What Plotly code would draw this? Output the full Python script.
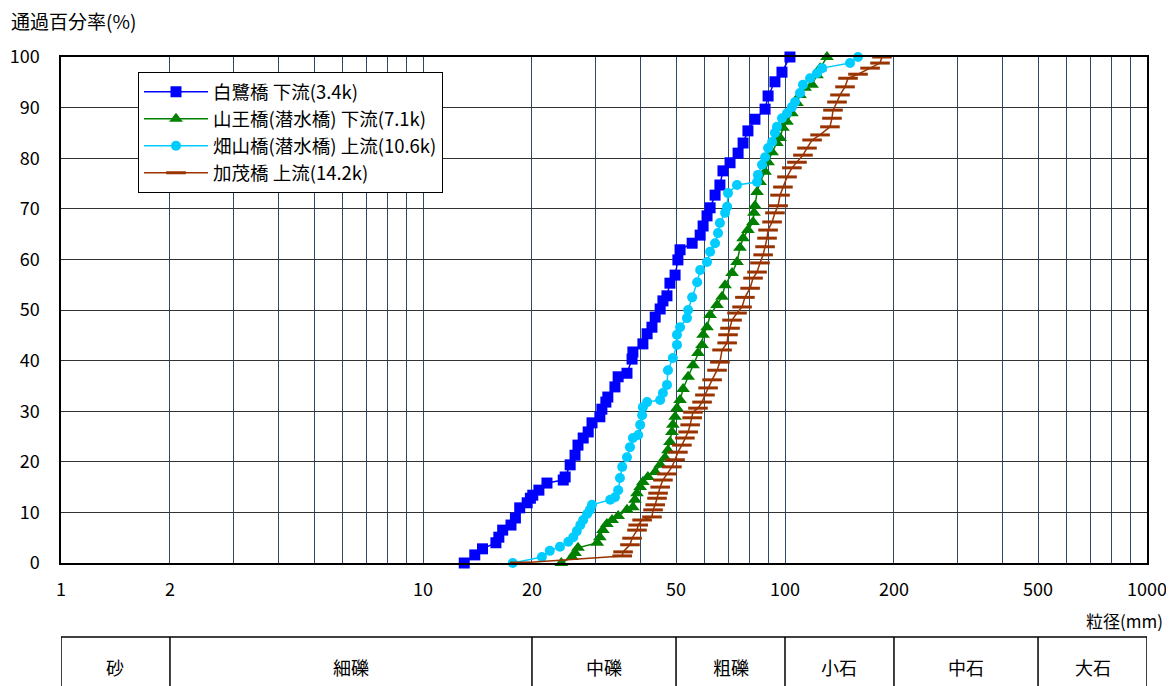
import math
import plotly.graph_objects as go

# ---- data (grain size mm, percent passing %) ----
shirasagi_d = [13.0, 13.9, 14.6, 15.9, 16.2, 16.6, 17.5, 18.0, 18.5, 19.4, 19.8, 20.1, 20.9, 22.0, 24.4, 24.7,
               25.5, 26.3, 26.8, 27.7, 28.6, 29.3, 30.8, 31.2, 32.0, 32.4, 33.9, 34.6, 36.6, 37.8, 38.0, 40.5,
               41.6, 42.9, 43.8, 45.2, 46.0, 47.2, 48.1, 49.7, 50.6, 51.3, 55.4, 58.3, 59.4, 60.9, 62.1, 64.1,
               66.1, 67.4, 70.5, 74.2, 76.6, 79.0, 82.6, 88.1, 89.8, 93.8, 98.1, 103.2]
shirasagi_p = [0.0, 1.6, 2.8, 4.0, 5.1, 6.5, 7.5, 8.9, 10.9, 11.9, 12.8, 13.4, 14.4, 15.8, 16.4, 17.0,
               19.4, 21.3, 23.3, 24.7, 25.9, 27.7, 28.9, 30.4, 31.8, 32.8, 34.8, 36.8, 37.5, 40.3, 41.7, 43.3,
               45.3, 46.6, 48.6, 50.2, 51.8, 52.8, 55.3, 56.9, 59.9, 61.9, 63.2, 64.8, 66.6, 68.6, 70.2, 72.7,
               74.7, 77.5, 79.1, 81.0, 83.0, 85.4, 87.7, 89.7, 92.3, 95.1, 97.0, 100.0]

sanno_d = [24.1, 25.8, 26.3, 26.8, 30.3, 30.8, 31.4, 32.2, 33.3, 34.6, 36.6, 38.0, 38.5, 39.0, 39.8, 40.5,
           41.8, 43.8, 45.2, 46.6, 47.5, 48.1, 48.7, 49.0, 49.7, 50.3, 51.3, 52.3, 54.0, 55.7, 57.5, 59.0,
           59.4, 60.9, 62.1, 64.9, 67.0, 68.3, 71.4, 73.7, 75.1, 76.6, 79.0, 81.6, 82.1, 82.6, 83.7, 85.3,
           88.1, 89.8, 92.1, 95.0, 96.9, 98.7, 101.3, 104.5, 107.9, 110.0, 113.6, 118.8, 122.6, 125.0, 130.6]
sanno_p = [0.0, 1.2, 2.0, 3.0, 4.0, 5.1, 6.5, 7.7, 8.5, 9.3, 10.5, 11.0, 12.5, 13.8, 15.0, 16.0,
           17.0, 18.0, 19.4, 20.8, 22.3, 23.9, 25.9, 27.3, 28.9, 30.6, 32.2, 34.4, 36.8, 39.1, 41.5, 43.1,
           45.1, 46.6, 49.0, 51.0, 52.6, 54.9, 57.3, 59.5, 62.3, 64.2, 65.8, 67.4, 69.2, 70.6, 73.3, 75.3,
           77.3, 79.2, 81.2, 83.0, 84.0, 86.0, 87.2, 88.9, 90.9, 92.5, 93.9, 94.5, 96.4, 97.8, 100.0]

hatayama_d = [17.7, 21.3, 22.4, 23.9, 25.2, 26.0, 26.6, 27.2, 27.7, 28.4, 28.9, 29.3, 32.9, 33.9, 34.6, 35.0,
              35.5, 36.6, 37.3, 38.0, 39.3, 39.8, 40.3, 40.5, 41.6, 45.2, 46.0, 47.2, 47.5, 49.0, 50.3, 50.3,
              51.3, 53.6, 54.0, 55.4, 57.2, 58.3, 60.9, 62.1, 64.1, 65.3, 66.1, 68.3, 69.2, 69.6, 73.7, 83.7,
              84.2, 86.4, 88.1, 89.8, 92.1, 93.8, 95.0, 98.1, 101.3, 104.5, 106.6, 110.0, 112.1, 117.3, 122.6,
              126.6, 151.2, 159.1]
hatayama_p = [0.0, 1.2, 2.4, 3.2, 4.2, 5.1, 6.3, 7.5, 8.5, 9.7, 10.5, 11.5, 12.5, 13.0, 14.4, 16.8,
              19.0, 20.9, 22.9, 24.7, 25.3, 27.3, 29.2, 30.8, 31.8, 32.2, 33.6, 35.2, 38.1, 40.5, 43.1, 45.1,
              46.6, 48.4, 50.0, 52.5, 55.5, 57.9, 59.5, 61.5, 63.2, 65.2, 67.2, 69.2, 70.4, 73.1, 74.7, 75.3,
              76.7, 78.7, 80.2, 82.0, 83.2, 85.0, 86.2, 87.9, 88.9, 90.1, 91.1, 92.9, 94.5, 95.8, 96.8,
              97.8, 98.8, 100.0]

kamo_d = [18.5, 35.5, 35.7, 37.3, 37.8, 39.0, 39.3, 40.3, 42.9, 43.2, 43.8, 44.3, 44.6, 45.2, 46.0, 47.2,
          48.7, 49.7, 50.6, 51.9, 52.9, 54.0, 54.7, 55.4, 55.7, 57.5, 59.0, 60.1, 61.3, 62.9, 64.9, 66.1,
          67.0, 69.2, 69.6, 70.5, 71.4, 73.7, 76.1, 77.5, 80.1, 81.6, 83.7, 85.3, 87.0, 88.1, 89.2, 89.8,
          92.1, 93.8, 95.7, 96.9, 98.7, 101.3, 104.5, 107.9, 112.1, 115.0, 118.8, 125.0, 133.1, 134.8,
          135.7, 139.2, 141.9, 146.5, 149.3, 159.1, 171.8, 183.0, 185.3]
kamo_p = [0.0, 1.4, 2.2, 3.6, 4.9, 6.5, 7.5, 8.5, 9.1, 10.5, 11.5, 12.8, 13.8, 15.0, 16.4, 17.6,
          19.0, 20.4, 21.9, 23.3, 24.7, 25.9, 27.3, 28.7, 29.8, 30.6, 31.8, 33.2, 34.6, 36.2, 38.1, 39.7,
          42.1, 43.5, 45.1, 46.4, 48.0, 49.4, 50.6, 52.5, 54.3, 56.3, 57.5, 59.3, 60.9, 62.5, 64.2, 65.8,
          67.4, 69.2, 70.6, 72.7, 74.3, 76.3, 78.1, 79.2, 80.6, 82.0, 83.6, 84.6, 86.2, 87.9,
          89.5, 91.1, 92.5, 94.1, 95.8, 96.6, 97.8, 98.8, 100.0]

series_names = ["白鷺橋 下流(3.4k)", "山王橋(潜水橋) 下流(7.1k)", "畑山橋(潜水橋) 上流(10.6k)", "加茂橋 上流(14.2k)"]

x_labels = {1: "1", 2: "2", 10: "10", 20: "20", 50: "50", 100: "100", 200: "200", 500: "500", 1000: "1000"}
class_bounds = [1, 2, 20, 50, 100, 200, 500, 1000]
class_names = ["砂", "細礫", "中礫", "粗礫", "小石", "中石", "大石"]

# ---- styling ----
FONT = "Noto Sans CJK JP"
styles = [
    dict(color="#0000FF", symbol="square", size=11, line=dict(width=0)),
    dict(color="#008000", symbol="triangle-up", size=12, line=dict(width=0)),
    dict(color="#00CCFF", symbol="circle", size=10, line=dict(width=0)),
    dict(color="#993300", symbol="line-ew", size=14, line=dict(width=3, color="#993300")),
]
line_colors = ["#0000FF", "#008000", "#00CCFF", "#993300"]
data = [(shirasagi_d, shirasagi_p), (sanno_d, sanno_p), (hatayama_d, hatayama_p), (kamo_d, kamo_p)]

fig = go.Figure()
for i, ((d, p), name) in enumerate(zip(data, series_names)):
    fig.add_trace(go.Scatter(
        x=d, y=p, name=name, mode="lines+markers",
        line=dict(color=line_colors[i], width=1.5),
        marker=styles[i], cliponaxis=False, legendgroup=f"g{i}",
    ))

grid_vals = [m * 10 ** e for e in range(3) for m in range(1, 10)] + [1000]
grid_text = [x_labels.get(v, "") for v in grid_vals]

# page body adds an 8px offset; figure sized so the plot area lands at x 61-1147, y 57-563
fig.update_layout(
    width=1166, height=678,
    margin=dict(l=53, r=27, t=49, b=123, autoexpand=False),
    paper_bgcolor="white", plot_bgcolor="white",
    font=dict(family=FONT, size=17, color="black"),
    showlegend=True,
    legend=dict(x=0.0709, y=0.970, xanchor="left", yanchor="top",
                bordercolor="black", borderwidth=1, bgcolor="white",
                font=dict(size=18.5), tracegroupgap=0, traceorder="grouped",
                itemwidth=64),
    xaxis=dict(type="log", range=[0, 3], tickvals=grid_vals, ticktext=grid_text,
               showgrid=True, gridcolor="#2E4A6B", gridwidth=1,
               showline=True, linecolor="black", linewidth=1.5, mirror=True,
               ticks="", ticklabelstandoff=10, zeroline=False, automargin=False,
               tickfont=dict(size=18)),
    yaxis=dict(range=[0, 100], dtick=10, tick0=0,
               showgrid=True, gridcolor="#333333", gridwidth=1,
               showline=True, linecolor="black", linewidth=1.5, mirror=True,
               ticks="", ticklabelstandoff=16, zeroline=False, automargin=False,
               tickfont=dict(size=18)),
)

fig.add_annotation(text="通過百分率(%)", xref="paper", yref="paper", x=-0.047, y=1.1,
                   xanchor="left", yanchor="top", showarrow=False, font=dict(size=19),
                   borderpad=0)
fig.add_annotation(text="粒径(mm)", xref="paper", yref="paper", x=1.0166, y=-0.1146,
                   xanchor="right", yanchor="middle", showarrow=False, font=dict(size=17))

# grain-size classification table
y_top, y_bot, y_txt = -0.1462, -0.26, -0.2055
fig.add_shape(type="line", xref="x", yref="paper", x0=class_bounds[0], x1=class_bounds[-1],
              y0=y_top, y1=y_top, line=dict(color="black", width=1.5))
for b in class_bounds:
    fig.add_shape(type="line", xref="x", yref="paper", x0=b, x1=b, y0=y_top, y1=y_bot,
                  line=dict(color="black", width=1.5))
for lo, hi, nm in zip(class_bounds[:-1], class_bounds[1:], class_names):
    fig.add_annotation(text=nm, xref="x", yref="paper", x=math.log10(math.sqrt(lo * hi)),
                       y=y_txt, showarrow=False, font=dict(size=18), yanchor="middle")

fig.write_html("out.html")
